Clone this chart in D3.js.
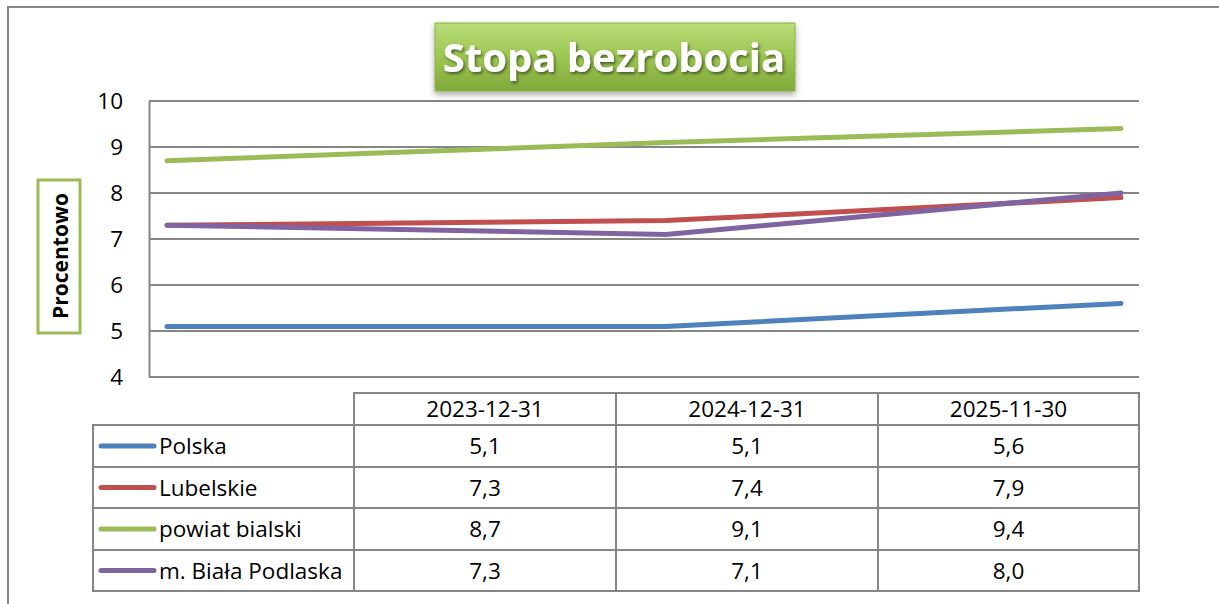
<!DOCTYPE html>
<html lang="pl">
<head>
<meta charset="UTF-8">
<title>Stopa bezrobocia</title>
<script src="https://d3js.org/d3.v7.min.js"></script>
<style>
    body { margin: 0; background: #fff; }
    text { font-family: "Open Sans", sans-serif; }
</style>
</head>
<body>
<svg width="1219" height="604"></svg>
<script>
var dates = ["2023-12-31", "2024-12-31", "2025-11-30"];
var seriesNames = ["Polska", "Lubelskie", "powiat bialski", "m. Biała Podlaska"];
var polska = [5.1, 5.1, 5.6];
var lubelskie = [7.3, 7.4, 7.9];
var powiat = [8.7, 9.1, 9.4];
var biala = [7.3, 7.1, 8.0];
var yTicks = [4, 5, 6, 7, 8, 9, 10];
var colors = ["#4F81BD", "#C0504D", "#9BBB59", "#8064A2"];

var series = [polska, lubelskie, powiat, biala];
var parse = d3.timeParse("%Y-%m-%d");
var svg = d3.select("svg");
var gridColor = "#868686";
var fs = 22.5;

// outer frame
svg.append("rect").attr("x", 8).attr("y", 7).attr("width", 1240).attr("height", 640)
    .attr("fill", "none").attr("stroke", gridColor).attr("stroke-width", 2);

var plotL = 149, plotR = 1139, plotT = 101, plotB = 377;
var x = d3.scaleTime().domain([parse(dates[0]), parse(dates[2])]).range([167, 1121]);
var y = d3.scaleLinear().domain([4, 10]).range([plotB, plotT]);

// grid
svg.append("g").selectAll("line").data(yTicks).enter().append("line")
    .attr("x1", plotL).attr("x2", plotR)
    .attr("y1", function (d) { return y(d); }).attr("y2", function (d) { return y(d); })
    .attr("stroke", gridColor).attr("stroke-width", 2);

var yAxis = svg.append("g").attr("transform", "translate(" + plotL + ",0)")
    .call(d3.axisLeft(y).tickValues(yTicks).tickFormat(d3.format("d")).tickSize(0).tickPadding(26));
yAxis.select(".domain").attr("stroke", gridColor).attr("stroke-width", 2);
yAxis.selectAll("text").attr("font-size", fs).attr("fill", "#000")
    .style("font-family", "'Open Sans', sans-serif");

// y title
svg.append("rect").attr("x", 38).attr("y", 180).attr("width", 42).attr("height", 153)
    .attr("fill", "#fff").attr("stroke", "#9BBB59").attr("stroke-width", 3);
svg.append("text").attr("transform", "translate(68,256) rotate(-90)")
    .attr("text-anchor", "middle").attr("font-size", 21).attr("font-weight", "bold")
    .text("Procentowo");

// lines
var line = d3.line()
    .x(function (d, i) { return x(parse(dates[i])); })
    .y(function (d) { return y(d); });
svg.append("g").selectAll("path").data(series).enter().append("path")
    .attr("d", line).attr("fill", "none")
    .attr("stroke", function (d, i) { return colors[i]; })
    .attr("stroke-width", 5).attr("stroke-linecap", "round").attr("stroke-linejoin", "round");

// data table
var colX = [93, 354, 616, 878, 1139];
var rowY = [393, 425, 467, 508, 550, 591];
var fmt = function (v) { return d3.format(".1f")(v).replace(".", ","); };
var tbl = svg.append("g");
// header
dates.forEach(function (d, i) {
    tbl.append("rect").attr("x", colX[i + 1]).attr("y", rowY[0])
        .attr("width", colX[i + 2] - colX[i + 1]).attr("height", rowY[1] - rowY[0])
        .attr("fill", "none").attr("stroke", gridColor).attr("stroke-width", 2);
    tbl.append("text").attr("x", (colX[i + 1] + colX[i + 2]) / 2).attr("y", (rowY[0] + rowY[1]) / 2 + 8)
        .attr("text-anchor", "middle").attr("font-size", fs).text(d);
});
series.forEach(function (s, r) {
    var y0 = rowY[r + 1], y1 = rowY[r + 2];
    for (var c = 0; c < 4; c++) {
        tbl.append("rect").attr("x", colX[c]).attr("y", y0)
            .attr("width", colX[c + 1] - colX[c]).attr("height", y1 - y0)
            .attr("fill", "none").attr("stroke", gridColor).attr("stroke-width", 2);
    }
    var my = (y0 + y1) / 2;
    tbl.append("line").attr("x1", 101).attr("x2", 154).attr("y1", my).attr("y2", my)
        .attr("stroke", colors[r]).attr("stroke-width", 5).attr("stroke-linecap", "round");
    tbl.append("text").attr("x", 159).attr("y", my + 8).attr("font-size", fs).text(seriesNames[r]);
    s.forEach(function (v, c) {
        tbl.append("text").attr("x", (colX[c + 1] + colX[c + 2]) / 2).attr("y", my + 8)
            .attr("text-anchor", "middle").attr("font-size", fs).text(fmt(v));
    });
});

// title box
var defs = svg.append("defs");
var grad = defs.append("linearGradient").attr("id", "tg").attr("x1", 0).attr("y1", 0).attr("x2", 0).attr("y2", 1);
grad.append("stop").attr("offset", "0%").attr("stop-color", "#b9dc78");
grad.append("stop").attr("offset", "50%").attr("stop-color", "#9dc652");
grad.append("stop").attr("offset", "100%").attr("stop-color", "#7fa83a");
var sh = defs.append("filter").attr("id", "sh").attr("x", "-10%").attr("y", "-20%").attr("width", "120%").attr("height", "150%");
sh.append("feDropShadow").attr("dx", 0).attr("dy", 3).attr("stdDeviation", 3).attr("flood-color", "#000").attr("flood-opacity", 0.35);
var ts = defs.append("filter").attr("id", "ts");
ts.append("feDropShadow").attr("dx", 1.5).attr("dy", 2).attr("stdDeviation", 1.5).attr("flood-color", "#000").attr("flood-opacity", 0.5);

svg.append("rect").attr("x", 435).attr("y", 23).attr("width", 360).attr("height", 68)
    .attr("fill", "url(#tg)").attr("stroke", "#8ab344").attr("stroke-width", 1)
    .attr("filter", "url(#sh)");
svg.append("text").attr("x", 614).attr("y", 72).attr("text-anchor", "middle")
    .attr("font-size", 40).attr("font-weight", "bold").attr("fill", "#fff")
    .attr("filter", "url(#ts)").text("Stopa bezrobocia");
</script>
</body>
</html>
